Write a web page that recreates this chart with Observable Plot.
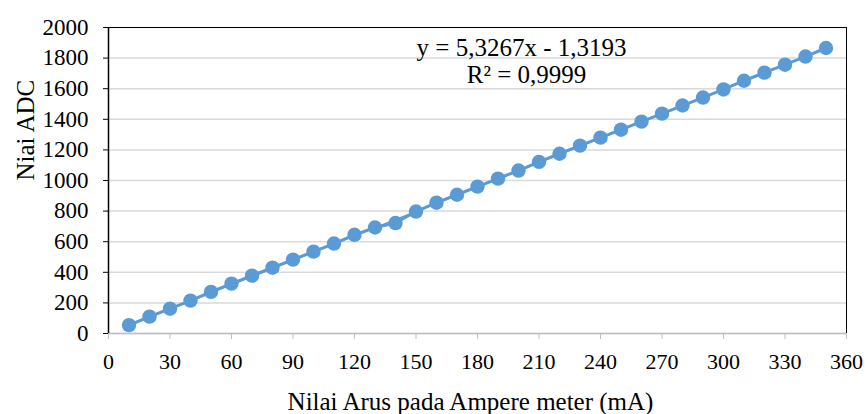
<!DOCTYPE html>
<html>
<head>
<meta charset="utf-8">
<script src="https://cdn.jsdelivr.net/npm/d3@7"></script>
<script src="https://cdn.jsdelivr.net/npm/@observablehq/plot@0.6"></script>
<style>
  html, body { margin: 0; padding: 0; background: #fff; }
  #chart { width: 868px; height: 414px; }
  #chart svg, #chart svg text { font-family: "Liberation Serif", "Times New Roman", serif !important; }
</style>
</head>
<body>
<div id="chart"></div>
<script>
const current = [10,20,30,40,50,60,70,80,90,100,110,120,130,140,150,160,170,180,190,200,210,220,230,240,250,260,270,280,290,300,310,320,330,340,350];
const adc = [55,110,162,215,272,326,378,430,483,535,588,645,693,722,797,855,907,960,1012,1065,1122,1175,1228,1280,1332,1385,1437,1490,1542,1595,1652,1705,1757,1810,1866];
const xTicks = [0,30,60,90,120,150,180,210,240,270,300,330,360];
const yTicks = [0,200,400,600,800,1000,1200,1400,1600,1800,2000];
const slope = 5.3267, intercept = -1.3193;
const eqLines = ["y = 5,3267x - 1,3193", "R² = 0,9999"];
const xLabel = "Nilai Arus pada Ampere meter (mA)";
const yLabel = "Niai ADC";

const data = current.map((x, i) => ({x, y: adc[i]}));
const trend = [current[0], current[current.length - 1]].map(x => ({x, y: slope * x + intercept}));
const color = "#5B9BD5";
const serif = '"Liberation Serif", "Times New Roman", serif';

const chart = Plot.plot({
  width: 868,
  height: 414,
  marginLeft: 108,
  marginRight: 22,
  marginTop: 27,
  marginBottom: 81,
  style: {fontFamily: serif, fontSize: "22px", background: "#fff"},
  x: {domain: [0, 360], ticks: xTicks},
  y: {domain: [0, 2000], ticks: yTicks},
  marks: [
    Plot.gridY(yTicks, {stroke: "#d9d9d9", strokeOpacity: 1, strokeWidth: 1.5}),
    Plot.frame({stroke: "#000", strokeWidth: 1}),
    Plot.ruleY([0], {stroke: "#bfbfbf", strokeWidth: 1.5}),
    Plot.axisX(xTicks, {tickSize: 6, tickPadding: 14, stroke: "#bfbfbf", fill: "#000", fontSize: 22, fontFamily: serif, label: null, tickFormat: d => String(d)}),
    Plot.axisY(yTicks, {tickSize: 5, tickPadding: 15, stroke: "#000", fill: "#000", fontSize: 23, fontFamily: serif, label: null, tickFormat: d => String(d)}),
    Plot.ruleX([0], {stroke: "#000", strokeWidth: 1.5}),
    Plot.line(trend, {x: "x", y: "y", stroke: color, strokeWidth: 1.5}),
    Plot.line(data, {x: "x", y: "y", stroke: color, strokeWidth: 3}),
    Plot.dot(data, {x: "x", y: "y", r: 7.2, fill: color, stroke: "none"}),
    Plot.text([eqLines[0]], {frameAnchor: "top-left", dx: 413, dy: 11, text: d => d, fontSize: 25, fontFamily: serif, fill: "#000", textAnchor: "middle", lineAnchor: "top"}),
    Plot.text([eqLines[1]], {frameAnchor: "top-left", dx: 418, dy: 38, text: d => d, fontSize: 25, fontFamily: serif, fill: "#000", textAnchor: "middle", lineAnchor: "top"}),
    Plot.text([xLabel], {frameAnchor: "bottom", dx: -7, dy: 76, text: d => d, fontSize: 25, fontFamily: serif, fill: "#000", lineAnchor: "bottom"}),
    Plot.text([yLabel], {frameAnchor: "left", dx: -83, rotate: -90, text: d => d, fontSize: 25, fontFamily: serif, fill: "#000", lineAnchor: "middle"})
  ]
});
document.getElementById("chart").appendChild(chart);
</script>
</body>
</html>
